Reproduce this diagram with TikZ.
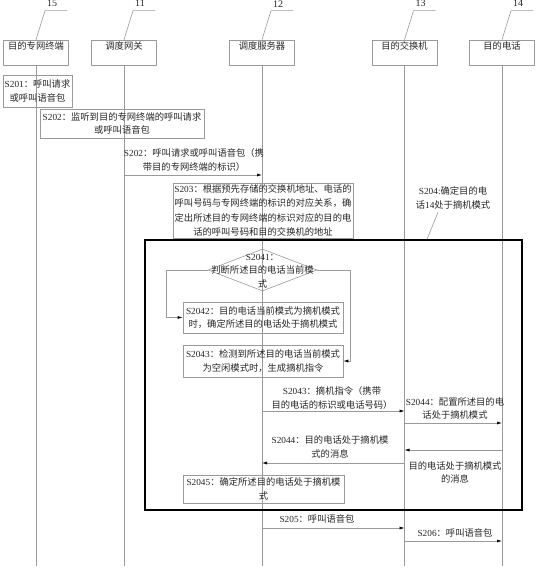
\documentclass[tikz,border=0pt]{standalone}
\usepackage{fontspec}
\setmainfont{Noto Sans CJK SC}
\newfontfamily\lat{Liberation Serif}
\usetikzlibrary{arrows.meta,shapes.geometric}
\definecolor{lg}{HTML}{9A9A9A}
\definecolor{tx}{HTML}{262626}
\newcommand\Sn[1]{{\lat #1}}
\begin{document}
\begin{tikzpicture}[x=1pt,y=-1pt,
  every node/.style={font=\fontsize{9.3}{13.5}\selectfont, text=tx},
  hbox/.style={draw=lg, line width=0.6pt, minimum width=65pt, inner xsep=0pt, inner ysep=2pt, text height=8pt, text depth=13pt},
  life/.style={draw=lg, line width=0.6pt},
  stepbox/.style={draw=lg, line width=0.6pt, align=center, inner xsep=1pt, inner ysep=1pt},
  msg/.style={draw=lg, line width=0.6pt, -{Latex[length=5pt,width=3pt,black]}},
  lbl/.style={align=center, inner sep=0pt},
  numlbl/.style={inner sep=0pt, font=\lat\fontsize{10}{12}\selectfont},
]
\useasboundingbox (0,0) rectangle (536,569);

% header boxes
\node[hbox] (h15) at (36,52.5) {目的专网终端};
\node[hbox] (h11) at (124,52.5) {调度网关};
\node[hbox] (h12) at (262,52.5) {调度服务器};
\node[hbox] (h13) at (404.5,52.5) {目的交换机};
\node[hbox] (h14) at (502,52.5) {目的电话};

% reference numerals
\foreach \n in {15,11,12,13,14}{
  \draw[life] (h\n.north) -- ++(9,-29) coordinate (k\n) -- ++(22,0);
  \node[numlbl] (n\n) at ([xshift=7pt,yshift=7pt]k\n) {\n};
}

% lifelines
\foreach \n in {15,11,12,13,14}{
  \draw[life] (h\n.south) -- (h\n |- 0,566);
}

% S201 / S202
\node[stepbox, text width=67pt, minimum height=32pt] (s201) at (37.5,91) {\Sn{S201}：呼叫请求\\或呼叫语音包};
\node[stepbox, text width=162pt, minimum height=29pt] (s202) at (122,123.5) {\Sn{S202}：监听到目的专网终端的呼叫请求\\或呼叫语音包};

\node[lbl] (l202) at (194,160) {\Sn{S202}：呼叫请求或呼叫语音包（携\\带目的专网终端的标识）};
\draw[msg] (h11 |- 0,175) -- (h12 |- 0,175);

% S203
\node[stepbox, text width=178pt, minimum height=55pt, inner ysep=0.5pt, font=\fontsize{9.3}{14.5}\selectfont] (s203) at (263,210.5) {\Sn{S203}：根据预先存储的交换机地址、电话的\\呼叫号码与专网终端的标识的对应关系，确\\定出所述目的专网终端的标识对应的目的电\\话的呼叫号码和目的交换机的地址};

% S204 note
\node[lbl] (s204) at (453,198) {{\lat S204:}确定目的电\\话{\lat 14}处于摘机模式};

% frame
\node[draw=black, line width=1.6pt, minimum width=377pt, minimum height=270pt, inner sep=0pt] (frame) at (333.5,375) {};
\draw[life] ([xshift=-15pt,yshift=-3pt]s204.south) -- (frame.north -| 427,0);

% decision
\node[diamond, draw=lg, line width=0.6pt, minimum width=109pt, minimum height=42pt, inner sep=0pt] (d2041) at (262.5,270) {};
\node[lbl] (t2041) at (262.5,271) {\Sn{S2041}：\\判断所述目的电话当前模\\式};

\node[stepbox, text width=158pt, minimum height=31pt] (s2042) at (263,317.5) {\Sn{S2042}：目的电话当前模式为摘机模式\\时，确定所述目的电话处于摘机模式};
\node[stepbox, text width=158pt, minimum height=32pt] (s2043) at (263,361) {\Sn{S2043}：检测到所述目的电话当前模式\\为空闲模式时，生成摘机指令};

\draw[msg] (d2041.west) -- ++(-41,0) |- (s2042.west);
\draw[msg] (d2041.east) -- ++(33,0) |- (s2043.east);

% messages inside frame
\node[lbl] (l2043) at (332,398) {\Sn{S2043}：摘机指令（携带\\目的电话的标识或电话号码）};
\draw[msg] (h12 |- 0,411) -- (h13 |- 0,411);

\node[lbl] (l2044r) at (455,408.5) {\Sn{S2044}：配置所述目的电\\话处于摘机模式};
\draw[msg] (h13 |- 0,423) -- (h14 |- 0,423);

\draw[msg] (h14 |- 0,450) -- (h13 |- 0,450);
\node[lbl] (lmsg) at (455,472.5) {目的电话处于摘机模式\\的消息};

\node[lbl] (l2044l) at (330,447) {\Sn{S2044}：目的电话处于摘机模\\式的消息};
\draw[msg] (h13 |- 0,463) -- (h12 |- 0,463);

\node[stepbox, text width=159pt, minimum height=28pt] (s2045) at (263.5,489) {\Sn{S2045}：确定所述目的电话处于摘机模\\式};

% after frame
\node[lbl] (l205) at (317,519) {\Sn{S205}：呼叫语音包};
\draw[msg] (h12 |- 0,528) -- (h13 |- 0,528);
\node[lbl] (l206) at (455,533) {\Sn{S206}：呼叫语音包};
\draw[msg] (h13 |- 0,541) -- (h14 |- 0,541);
\end{tikzpicture}
\end{document}
